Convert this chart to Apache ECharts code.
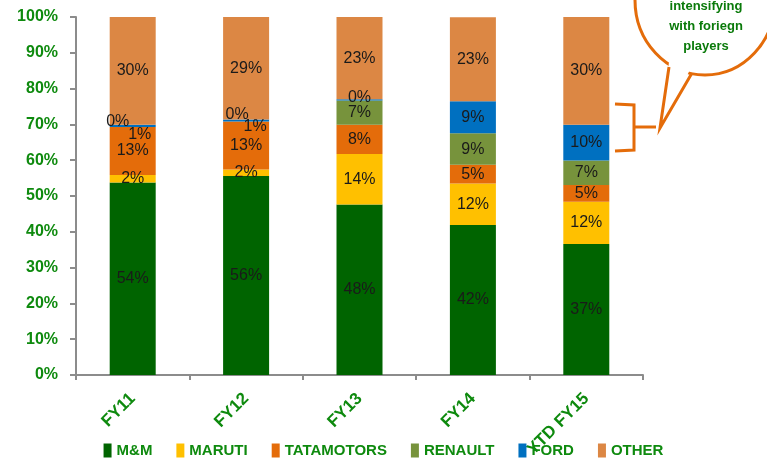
<!DOCTYPE html>
<html>
<head>
    <meta charset="utf-8">
    <script src="https://cdn.jsdelivr.net/npm/echarts@6/dist/echarts.min.js"></script>
    <style>
        * { margin: 0; padding: 0; }
        #main { width: 767px; height: 458px; }
    </style>
</head>
<body>
    <div id="main"></div>
    <script type="text/javascript">
        // categories and shares (%)
        var years = ['FY11', 'FY12', 'FY13', 'FY14', 'YTD FY15'];
        var mm = [53.8, 55.6, 47.6, 41.9, 36.6];
        var maruti = [2.1, 1.8, 14.1, 11.6, 11.8];
        var tata = [13.4, 13.4, 8.2, 5.2, 4.7];
        var renault = [0, 0, 6.8, 8.8, 6.8];
        var ford = [0.6, 0.6, 0.3, 9.0, 10.0];
        var other = [30.1, 28.6, 23.0, 23.4, 30.1];

        var names = ['M&M', 'MARUTI', 'TATAMOTORS', 'RENAULT', 'FORD', 'OTHER'];
        var colors = ['#006400', '#FFC000', '#E46C0A', '#77933C', '#0070C0', '#DC8744'];
        var allData = [mm, maruti, tata, renault, ford, other];
        var green = '#0E8A0E';

        // hand-placed labels for the thin slices (like the original)
        var labelOffsets = {
            'RENAULT': [[-15, -5], [-9, -7], [0, 0], [0, 0], [0, 0]],
            'FORD': [[7, 9], [9, 6], [0, -2], [0, 0], [0, 0]]
        };

        var series = [];
        for (var s = 0; s < names.length; s++) {
            var d = [];
            for (var i = 0; i < years.length; i++) {
                var item = { value: allData[s][i] };
                if (labelOffsets[names[s]]) {
                    item.label = { offset: labelOffsets[names[s]][i] };
                }
                d.push(item);
            }
            series.push({
                name: names[s],
                type: 'bar',
                stack: 'share',
                barWidth: 46,
                itemStyle: { color: colors[s] },
                label: {
                    show: true,
                    position: 'inside',
                    color: '#1a1a1a',
                    fontSize: 16,
                    fontFamily: 'Liberation Sans',
                    formatter: function (p) { return Math.round(p.value) + '%'; }
                },
                data: d
            });
        }

        var orange = '#E46C0A';

        var option = {
            animation: false,
            grid: { left: 76, right: 124, top: 17, bottom: 83, outerBoundsMode: 'none' },
            legend: {
                top: 438,
                left: 'center',
                icon: 'rect',
                itemWidth: 8,
                itemHeight: 14,
                itemGap: 24,
                textStyle: { color: green, fontWeight: 'bold', fontSize: 15, fontFamily: 'Liberation Sans' },
                data: names
            },
            xAxis: {
                type: 'category',
                data: years,
                axisLine: { lineStyle: { color: '#8C8C8C', width: 2 } },
                axisTick: { show: true, length: 5, lineStyle: { color: '#8C8C8C', width: 2 } },
                axisLabel: {
                    rotate: 45,
                    margin: 21,
                    color: green,
                    fontWeight: 'bold',
                    fontSize: 17,
                    fontFamily: 'Liberation Sans'
                }
            },
            yAxis: {
                type: 'value',
                min: 0,
                max: 100,
                interval: 10,
                splitLine: { show: false },
                axisLine: { show: true, lineStyle: { color: '#8C8C8C', width: 2 } },
                axisTick: { show: true, length: 6, lineStyle: { color: '#8C8C8C', width: 2 } },
                axisLabel: {
                    formatter: '{value}%',
                    margin: 18,
                    color: green,
                    fontWeight: 'bold',
                    fontSize: 16,
                    fontFamily: 'Liberation Sans'
                }
            },
            graphic: [
                // speech bubble
                { type: 'ellipse', shape: { cx: 705, cy: 0, rx: 70, ry: 75 },
                  style: { fill: '#fff', stroke: orange, lineWidth: 3 } },
                { type: 'polygon', shape: { points: [[669, 62], [661, 124], [691, 68]] },
                  style: { fill: '#fff' } },
                { type: 'polyline', shape: { points: [[669, 67], [660, 128], [692, 73]] },
                  style: { stroke: orange, lineWidth: 3, fill: null } },
                { type: 'text', x: 706, y: -24,
                  style: { text: 'Competition\nintensifying\nwith foriegn\nplayers', align: 'center',
                           fill: '#0A7A0A', fontSize: 13, fontWeight: 'bold', lineHeight: 20,
                           fontFamily: 'Liberation Sans' } },
                // bracket on the FORD slice
                { type: 'polyline', shape: { points: [[615, 104], [634, 105], [634, 150], [615, 151]] },
                  style: { stroke: orange, lineWidth: 3, fill: null } },
                { type: 'line', shape: { x1: 634, y1: 127, x2: 656, y2: 127 },
                  style: { stroke: orange, lineWidth: 3 } }
            ],
            series: series
        };

        var myChart = echarts.init(document.getElementById('main'));
        myChart.setOption(option);
    </script>
</body>
</html>
